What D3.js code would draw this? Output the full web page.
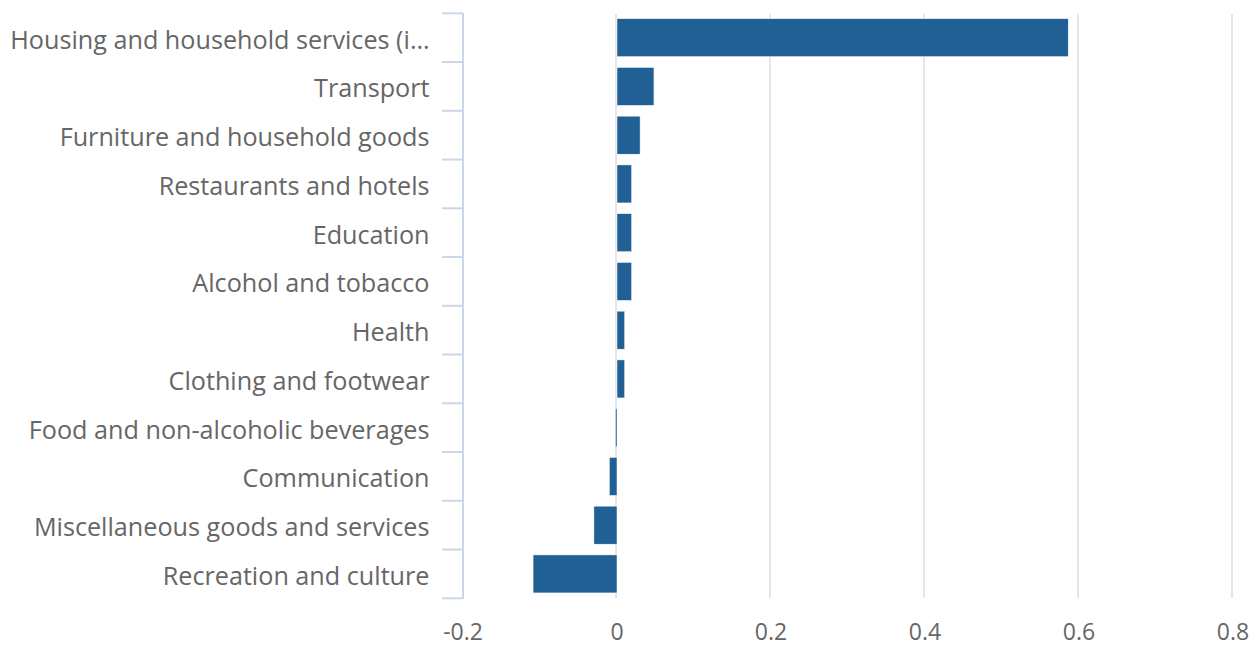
<!DOCTYPE html>
<html><head><meta charset="utf-8">
<script src="https://cdn.jsdelivr.net/npm/d3@7"></script>
<style>body{margin:0;background:#fff}svg{display:block}text{font-family:"Open Sans",sans-serif;fill:#666666}</style>
</head><body><svg id="c" width="1255" height="645"></svg>
<script>
const categories = ["Housing and household services (i…","Transport","Furniture and household goods","Restaurants and hotels","Education","Alcohol and tobacco","Health","Clothing and footwear","Food and non-alcoholic beverages","Communication","Miscellaneous goods and services","Recreation and culture"];
const values = [0.586,0.048,0.030,0.019,0.019,0.019,0.010,0.010,-0.002,-0.010,-0.030,-0.109];
const xTicks = [-0.2,0,0.2,0.4,0.6,0.8];
const xTickLabels = ["-0.2","0","0.2","0.4","0.6","0.8"];

const svg = d3.select("#c");
const x = d3.scaleLinear().domain([-0.2,0.8]).range([462,1232]);
const y = d3.scaleBand().domain(categories).range([13.3,598.3]).paddingInner(0.22).paddingOuter(0.11);

// gridlines
svg.append("g").selectAll("line").data(xTicks.filter(d=>d>-0.2)).join("line")
  .attr("x1",d=>x(d)).attr("x2",d=>x(d)).attr("y1",14).attr("y2",598)
  .attr("stroke","#e6e6e6").attr("stroke-width",2);

// bars
svg.append("g").selectAll("rect").data(values).join("rect")
  .attr("x",(d)=>Math.min(x(0),x(d))+1)
  .attr("width",d=>Math.max(1,Math.abs(x(d)-x(0))))
  .attr("y",(d,i)=>y(categories[i]))
  .attr("height",y.bandwidth())
  .attr("fill","#206095").attr("stroke","#ffffff").attr("stroke-width",0.5);

// left axis
const ax = svg.append("g");
ax.append("line").attr("x1",463).attr("x2",463).attr("y1",13).attr("y2",599).attr("stroke","#ccd6eb").attr("stroke-width",2);
const edges = categories.map(c=>y(c)-y.step()*y.paddingInner()/2).concat([598.3]);
ax.selectAll("line.t").data(edges).join("line").attr("class","t")
  .attr("x1",442).attr("x2",463).attr("y1",d=>d).attr("y2",d=>d)
  .attr("stroke","#ccd6eb").attr("stroke-width",2);
ax.selectAll("text").data(categories).join("text")
  .attr("x",429.5).attr("y",d=>y(d)+y.bandwidth()/2+1)
  .attr("text-anchor","end").attr("dominant-baseline","central")
  .style("font-size","25.2px").text(d=>d);

// x axis labels
svg.append("g").selectAll("text").data(xTicks).join("text")
  .attr("x",d=>x(d)+1).attr("y",640).attr("text-anchor","middle")
  .style("font-size","23px").text((d,i)=>xTickLabels[i]);
</script></body></html>
